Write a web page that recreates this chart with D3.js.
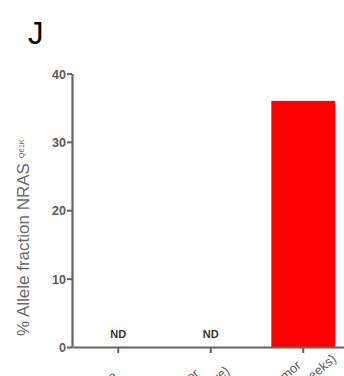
<!DOCTYPE html>
<html><head><meta charset="utf-8">
<script src="https://cdn.jsdelivr.net/npm/d3@7"></script>
<style>body{margin:0;background:#fff}svg{display:block}</style>
</head><body>
<script>
const categories = ["Baseline", "Tumor|(therapy-naive)", "Late tumor|(relapse at 12 weeks)"];
const values = [0, 0, 36];
const detected = [false, false, true];
const yTicks = [0, 10, 20, 30, 40];
const panelLetter = "J";

const W = 344, H = 376;
const FONT = "'Liberation Sans', Arial, Helvetica, sans-serif";
const svg = d3.select("body").append("svg").attr("width", W).attr("height", H)
  .style("font-family", FONT);

const x0 = 72, x1 = 349.5, yTop = 73.5, yBot = 347;
const y = d3.scaleLinear().domain([0, 40]).range([yBot, yTop]);
const x = d3.scaleBand().domain(categories).range([x0, x1]).paddingInner(0.31).paddingOuter(0.155);

const axisCol = "#636363";

svg.append("text").attr("x", 28).attr("y", 44).attr("font-size", 31).attr("fill", "#000").text(panelLetter);

// bars
svg.selectAll("rect.bar").data(categories.filter((c, i) => detected[i])).enter().append("rect")
  .attr("x", c => x(c)).attr("width", x.bandwidth())
  .attr("y", c => y(values[categories.indexOf(c)]))
  .attr("height", c => y(0) - y(values[categories.indexOf(c)]))
  .attr("fill", "#ff0000");

// ND labels
svg.selectAll("text.nd").data(categories.filter((c, i) => !detected[i])).enter().append("text")
  .attr("x", c => x(c) + x.bandwidth() / 2).attr("y", y(0) - 9)
  .attr("text-anchor", "middle").attr("font-size", 11).attr("font-weight", "bold")
  .attr("fill", "#333").text("ND");

// y axis
const ya = svg.append("g").attr("transform", `translate(${x0},0)`)
  .call(d3.axisLeft(y).tickValues(yTicks).tickSize(5).tickPadding(1).tickSizeOuter(0));
ya.select(".domain").attr("stroke", axisCol).attr("stroke-width", 2.2);
ya.selectAll(".tick line").attr("stroke", axisCol).attr("stroke-width", 2);
ya.selectAll(".tick text").attr("font-size", 12.5).attr("font-weight", "bold").attr("fill", "#5a5a5a")
  .attr("font-family", FONT).attr("dy", "0.36em");

// x axis
const xa = svg.append("g").attr("transform", `translate(0,${yBot})`)
  .call(d3.axisBottom(x).tickSize(6).tickSizeOuter(0).tickFormat(""));
xa.select(".domain").attr("stroke", axisCol).attr("stroke-width", 2.2);
xa.selectAll(".tick line").attr("stroke", axisCol).attr("stroke-width", 2);

// rotated x labels (lines centred, block centred)
const lh = 17.5;
const lab = svg.selectAll("g.xl").data(categories).enter().append("g")
  .attr("transform", c => `translate(${x(c) + x.bandwidth() / 2 - 19.5},${yBot + 46.5}) rotate(-40)`);
lab.each(function(c) {
  const lines = c.split("|");
  const n = lines.length;
  lines.forEach((l, i) => d3.select(this).append("text").attr("text-anchor", "middle")
    .attr("x", 0).attr("y", (i - (n - 1) / 2) * lh)
    .attr("font-size", 13).attr("fill", "#5f5f5f").text(l));
});

// y label
const yl = svg.append("text").attr("transform", `translate(29,336) rotate(-90)`)
  .attr("text-anchor", "start").attr("font-size", 17).attr("fill", "#6a6a6a");
yl.append("tspan").text("% Allele fraction NRAS ");
yl.append("tspan").attr("font-size", 7.5).attr("dy", -5).text("Q61K");
</script>
</body></html>
